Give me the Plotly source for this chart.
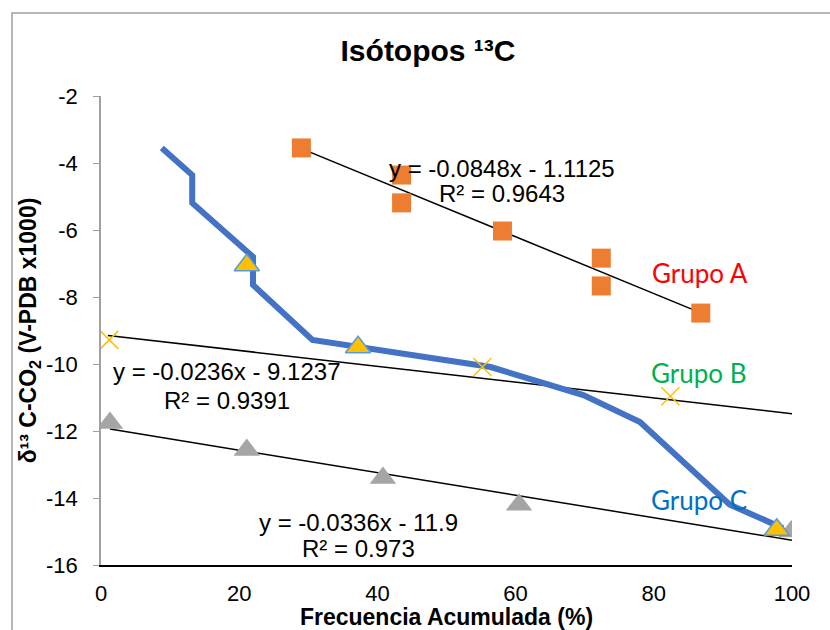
import plotly.graph_objects as go

# ---- data ----
curve_x = [8.8, 13.2, 13.2, 22.0, 22.0, 30.6, 56.4, 69.8, 78.0, 91.0, 98.7]
curve_y = [-3.55, -4.36, -5.19, -6.8, -7.64, -9.28, -10.09, -10.93, -11.73, -14.2, -14.9]

grupoA_x = [29.0, 43.5, 43.5, 58.1, 72.4, 72.4, 86.8]
grupoA_y = [-3.55, -4.36, -5.19, -6.03, -6.84, -7.67, -8.48]

grupoB_x = [1.2, 55.2, 82.4]
grupoB_y = [-9.28, -10.09, -10.96]

gold_x = [21.1, 37.2, 97.8]
gold_y = [-7.05, -9.5, -14.95]

grupoC_x = [1.3, 21.1, 40.8, 60.5, 99.9]
grupoC_y = [-11.76, -12.57, -13.4, -14.2, -15.0]

# trendlines (slope, intercept, x-span)
trendA = (-0.0848, -1.1125, [29.0, 86.8])
trendB = (-0.0236, -9.1237, [1.0, 100.0])
trendC = (-0.0336, -11.9, [1.3, 100.0])

eqA = ["y = -0.0848x - 1.1125", "R² = 0.9643"]
eqB = ["y = -0.0236x - 9.1237", "R² = 0.9391"]
eqC = ["y = -0.0336x - 11.9", "R² = 0.973"]

x_ticks = [0, 20, 40, 60, 80, 100]
x_ticktext = ["0", "20", "40", "60", "80", "100"]
y_ticks = [-16, -14, -12, -10, -8, -6, -4, -2]
y_ticktext = ["-16", "-14", "-12", "-10", "-8", "-6", "-4", "-2"]

FONT = "Liberation Sans, Arial, sans-serif"
GFONT = "Lato, Carlito, Calibri, sans-serif"

fig = go.Figure()

def trend(t):
    m, b, xs = t
    return xs, [m * v + b for v in xs]

for t in (trendA, trendB, trendC):
    tx, ty = trend(t)
    fig.add_trace(go.Scatter(x=tx, y=ty, mode="lines",
                             line=dict(color="black", width=1.5), hoverinfo="skip"))

fig.add_trace(go.Scatter(x=curve_x, y=curve_y, mode="lines",
                         line=dict(color="#4472C4", width=6)))
fig.add_trace(go.Scatter(x=grupoA_x, y=grupoA_y, mode="markers",
                         marker=dict(symbol="square", size=19, color="#ED7D31",
                                     line=dict(width=0))))
fig.add_trace(go.Scatter(x=grupoB_x, y=grupoB_y, mode="markers",
                         marker=dict(symbol="x-thin-open", size=18, color="#FFC000",
                                     line=dict(color="#FFC000", width=1.5))))
fig.add_trace(go.Scatter(x=grupoC_x, y=grupoC_y, mode="markers",
                         marker=dict(symbol="triangle-up", size=23, color="#A5A5A5",
                                     line=dict(width=0))))
fig.add_trace(go.Scatter(x=gold_x, y=gold_y, mode="markers",
                         marker=dict(symbol="triangle-up", size=22, color="#FFC000",
                                     line=dict(color="#5B9BD5", width=1.5))))

# annotations
ann = []
def txt(x, y, s, size=24, color="black", family=FONT):
    ann.append(dict(x=x, y=y, xref="x", yref="y", text=s, showarrow=False,
                    xanchor="center", yanchor="middle",
                    font=dict(family=family, size=size, color=color)))

txt(58.1, -4.15, eqA[0]); txt(58.1, -4.9, eqA[1])
txt(18.2, -10.22, eqB[0]); txt(18.2, -11.08, eqB[1])
txt(37.3, -14.72, eqC[0]); txt(37.3, -15.52, eqC[1])
txt(86.7, -7.28, "Grupo A", size=26, color="#FF0000", family=GFONT)
txt(86.6, -10.27, "Grupo B", size=26, color="#00B050", family=GFONT)
txt(86.6, -14.06, "Grupo C", size=26, color="#0070C0", family=GFONT)

fig.update_layout(
    width=830, height=630,
    margin=dict(l=101, r=38, t=96, b=65, autoexpand=False),
    paper_bgcolor="white", plot_bgcolor="white",
    showlegend=False,
    font=dict(family=FONT, color="black"),
    title=dict(text="<b>Isótopos ¹³C</b>", x=0.5157, xanchor="center",
               y=1 - 50 / 630, yanchor="middle", automargin=False,
               font=dict(family=FONT, size=30, color="black")),
    xaxis=dict(range=[0, 100], tickvals=x_ticks, ticktext=x_ticktext,
               showgrid=False, zeroline=False, automargin=False,
               showline=True, linecolor="black", linewidth=1.5, ticks="",
               ticklabelstandoff=8,
               tickfont=dict(size=22, family=FONT),
               title=dict(text="<b>Frecuencia Acumulada (%)</b>",
                          font=dict(size=23, family=FONT), standoff=10)),
    xaxis2=dict(range=[0, 100], tickvals=x_ticks, overlaying="x", side="top",
                anchor="y", showgrid=False, zeroline=False, showline=True,
                automargin=False,
                linecolor="#A0A0A0", linewidth=1.5, ticks="inside", ticklen=6,
                tickcolor="#A0A0A0", showticklabels=False),
    yaxis=dict(range=[-16, -2], tickvals=y_ticks, ticktext=y_ticktext,
               showgrid=False, zeroline=False, automargin=False,
               showline=True, linecolor="#A0A0A0", linewidth=1.5, ticks="outside",
               ticklen=6, tickcolor="#A0A0A0", ticklabelstandoff=11,
               tickfont=dict(size=22, family=FONT),
               title=dict(text="<b>δ¹³ C-CO<sub>2</sub> (V-PDB x1000)</b>",
                          font=dict(size=23, family=FONT), standoff=3)),
    yaxis2=dict(range=[-16, -2], overlaying="y", side="right", anchor="x",
                showgrid=False, zeroline=False, showline=True, linecolor="black",
                automargin=False,
                linewidth=1.5, ticks="", showticklabels=False),
    annotations=ann,
    shapes=[dict(type="rect", xref="paper", yref="paper",
                 x0=(12 - 101) / 691, x1=(850 - 101) / 691,
                 y0=(565 - 660) / 469, y1=(565 - 13) / 469,
                 line=dict(color="#A0A0A0", width=1.5), fillcolor="rgba(0,0,0,0)",
                 layer="below")],
)

fig.write_html("out.html", config={"displayModeBar": False},
               post_script="document.body.style.margin='0';document.body.style.padding='0';")
